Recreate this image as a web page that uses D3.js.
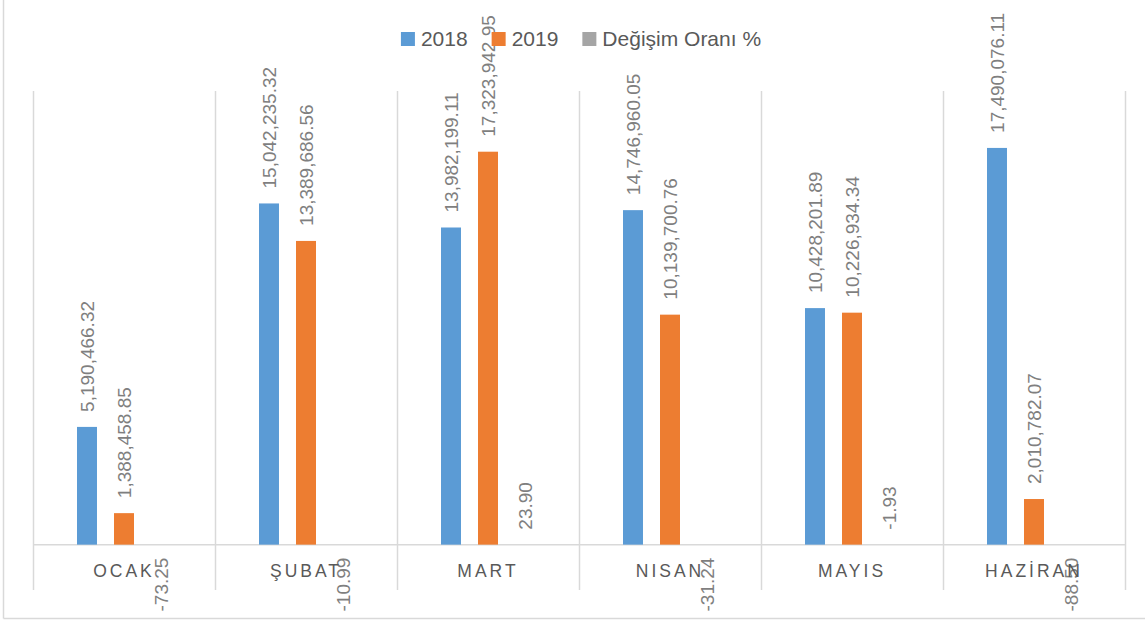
<!DOCTYPE html>
<html>
<head>
<meta charset="utf-8">
<script src="https://cdn.jsdelivr.net/npm/d3@7"></script>
<style>
  body { margin: 0; background: #fff; }
  svg { display: block; font-family: "Liberation Sans", Arial, sans-serif; }
</style>
</head>
<body>
<div id="chart"></div>
<script>
// data
var months = ["OCAK", "ŞUBAT", "MART", "NISAN", "MAYIS", "HAZİRAN"];
var series = ["2018", "2019", "Değişim Oranı %"];
var values2018 = [5190466.32, 15042235.32, 13982199.11, 14746960.05, 10428201.89, 17490076.11];
var values2019 = [1388458.85, 13389686.56, 17323942.95, 10139700.76, 10226934.34, 2010782.07];
var valuesChange = [-73.25, -10.99, 23.90, -31.24, -1.93, -88.50];
var colors = ["#5b9bd5", "#ed7d31", "#a5a5a5"];

var W = 1145, H = 621;
var svg = d3.select("#chart").append("svg").attr("width", W).attr("height", H);

// chart border (left + bottom visible)
svg.append("line").attr("x1", 3.5).attr("x2", 3.5).attr("y1", 0).attr("y2", 618.5)
    .attr("stroke", "#d9d9d9").attr("stroke-width", 1.5);
svg.append("line").attr("x1", 3.5).attr("x2", W).attr("y1", 618.5).attr("y2", 618.5)
    .attr("stroke", "#d9d9d9").attr("stroke-width", 1.5);

var x0 = d3.scaleBand().domain(months).range([33, 1125]).padding(0);
var x1 = d3.scaleBand().domain(series).range([44, 138]).paddingInner(0.46);
var y = d3.scaleLinear().domain([-2000000, 20000000]).range([590, 91]);

// vertical category gridlines
var bounds = months.map(function (m) { return x0(m); }).concat([x0.range()[1]]);
svg.selectAll("line.grid").data(bounds).enter().append("line")
    .attr("class", "grid")
    .attr("x1", function (d) { return Math.round(d) + 0.5; })
    .attr("x2", function (d) { return Math.round(d) + 0.5; })
    .attr("y1", y.range()[1]).attr("y2", y.range()[0])
    .attr("stroke", "#d9d9d9").attr("stroke-width", 1.5);

// zero line
svg.append("line").attr("x1", x0.range()[0]).attr("x2", x0.range()[1])
    .attr("y1", y(0)).attr("y2", y(0))
    .attr("stroke", "#d9d9d9").attr("stroke-width", 1.5);

var rows = months.map(function (m, i) {
    return { month: m, vals: [values2018[i], values2019[i], valuesChange[i]] };
});

var loc = d3.formatLocale({ decimal: ".", thousands: ",", grouping: [3], currency: ["", ""], minus: "-" });
var fmt = loc.format(",.2f");

var groups = svg.selectAll("g.month").data(rows).enter().append("g")
    .attr("class", "month")
    .attr("transform", function (d) { return "translate(" + x0(d.month) + ",0)"; });

groups.selectAll("rect").data(function (d) {
    return d.vals.map(function (v, j) { return { s: series[j], v: v, c: colors[j] }; });
}).enter().append("rect")
    .attr("x", function (d) { return x1(d.s); })
    .attr("width", x1.bandwidth())
    .attr("y", function (d) { return Math.min(y(d.v), y(0)); })
    .attr("height", function (d) { return Math.abs(y(d.v) - y(0)); })
    .attr("fill", function (d) { return d.c; });

// data labels, rotated; tiny negatives (like -1.93) still sit above the axis
function above(v) { return v > -5; }
groups.selectAll("text.lbl").data(function (d) {
    return d.vals.map(function (v, j) { return { s: series[j], v: v }; });
}).enter().append("text")
    .attr("class", "lbl")
    .attr("transform", function (d) {
        var cx = x1(d.s) + x1.bandwidth() / 2;
        var cy = above(d.v) ? Math.min(y(d.v), y(0)) - 15 : y(0) + 13;
        return "translate(" + cx + "," + cy + ") rotate(-90)";
    })
    .attr("text-anchor", function (d) { return above(d.v) ? "start" : "end"; })
    .attr("dy", "0.35em")
    .attr("fill", "#7f7f7f")
    .style("font-size", "19px")
    .text(function (d) { return fmt(d.v); });

// category labels
svg.selectAll("text.cat").data(months).enter().append("text")
    .attr("class", "cat")
    .attr("x", function (d) { return x0(d) + x0.bandwidth() / 2; })
    .attr("y", 577)
    .attr("text-anchor", "middle")
    .attr("fill", "#595959")
    .style("font-size", "17.5px")
    .style("letter-spacing", "3px")
    .text(function (d) { return d; });

// legend
var legend = svg.append("g");
var lx = 0;
series.forEach(function (s, i) {
    var g = legend.append("g").attr("transform", "translate(" + lx + ",0)");
    g.append("rect").attr("x", 0).attr("y", -7).attr("width", 14).attr("height", 14).attr("fill", colors[i]);
    var t = g.append("text").attr("x", 20).attr("y", 0).attr("dy", "0.35em")
        .attr("fill", "#595959").style("font-size", "21px").text(s);
    lx += 20 + t.node().getComputedTextLength() + 24;
});
var lw = lx - 24;
legend.attr("transform", "translate(" + (581 - lw / 2) + ",39)");
</script>
</body>
</html>
